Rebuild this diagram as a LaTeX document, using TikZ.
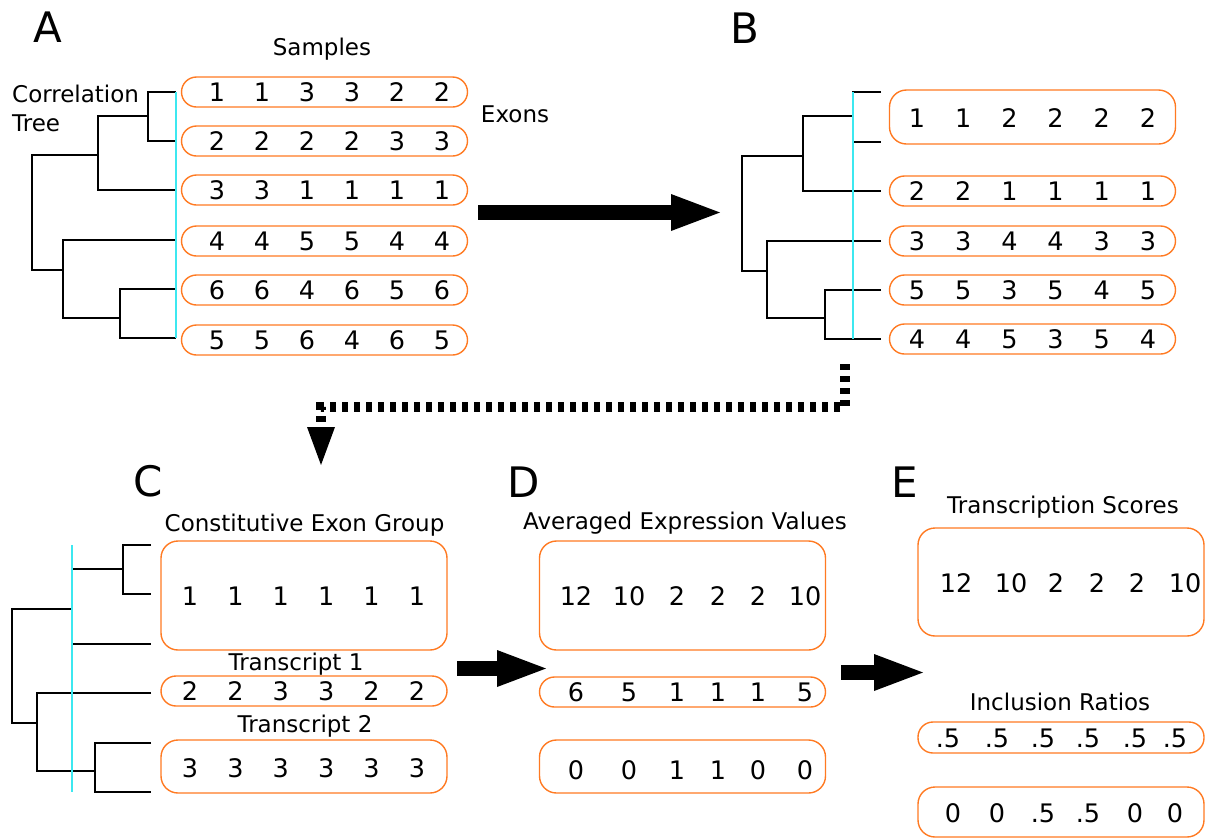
\documentclass[tikz,border=0pt]{standalone}
\usepackage{fontspec}
\setmainfont{DejaVu Sans}
\usetikzlibrary{arrows.meta}

\definecolor{boxorange}{RGB}{255,122,34}
\definecolor{cutcyan}{RGB}{60,232,240}

\begin{document}
\begin{tikzpicture}[
		x=1pt, y=-1pt,
		txt/.style={font=\fontsize{23}{27}\selectfont, inner sep=0pt, text height=17pt, text depth=0pt},
		num/.style={font=\fontsize{25.5}{30}\selectfont, inner sep=0pt, text height=18.6pt, text depth=0pt},
		panel/.style={font=\fontsize{42}{48}\selectfont, inner sep=0pt, text height=30.5pt, text depth=0pt},
		pill/.style={draw=boxorange, line width=1.4pt, rounded corners=15pt, minimum width=286pt, minimum height=30pt, inner sep=0pt},
		grp/.style={pill, rounded corners=17pt},
		tree/.style={line width=1.5pt},
		cutline/.style={draw=cutcyan, line width=1.8pt},
		bigarrow/.style={line width=15pt, -{Triangle[length=49pt, width=37pt, line width=0pt]}},
		dotarrow/.style={line width=10pt, dash pattern=on 6pt off 6pt, -{Triangle[length=38pt, width=28pt, line width=0pt]}}
	]
		\useasboundingbox (0,0) rectangle (1208,839);

		% A: exon rows with their correlation tree
		\node[panel] (pa) at (47.5,27.5) {A};
		\node[txt] (samples) at (322,47) {Samples};
		\node[txt, anchor=west] (corr) at (12,94) {Correlation};
		\node[txt, anchor=west] (corrtree) at (12,123) {Tree};
		\node[txt] (exons) at (515,114) {Exons};
		\foreach \y/\vals [count=\r] in {92/{1,1,3,3,2,2}, 141/{2,2,2,2,3,3}, 190/{3,3,1,1,1,1},
				241/{4,4,5,5,4,4}, 290/{6,6,4,6,5,6}, 340/{5,5,6,4,6,5}} {
			\node[pill] (a\r) at (324.5,\y) {};
			\foreach \v [count=\i] in \vals
				\node[num] (a\r-\i) at (172+45*\i,\y) {\v};
		}
		\draw[tree] (176,92) -| (148,141) -- (176,141);
		\draw[tree] (148,116) -| (98,190) -- (176,190);
		\draw[tree] (98,155) -| (32,270) -- (63,270);
		\draw[tree] (176,240) -| (63,318) -- (120,318);
		\draw[tree] (176,289) -| (120,338) -- (176,338);
		\draw[cutline] (176,92) -- (176,338);

		% A -> B
		\coordinate (ab-s) at (478,212.5);
		\coordinate (ab-e) at (720,212.5);
		\draw[bigarrow] (ab-s) -- (ab-e);

		% B: rows after merging the first two
		\node[panel] (pb) at (745,28) {B};
		\node[grp, minimum height=54pt] (b1) at (1032.5,117) {};
		\foreach \v [count=\i] in {1,1,2,2,2,2}
			\node[num] (b1-\i) at (870.8+46.2*\i,118) {\v};
		\foreach \y/\vals [count=\r from 2] in {191/{2,2,1,1,1,1}, 241/{3,3,4,4,3,3},
				290/{5,5,3,5,4,5}, 339/{4,4,5,3,5,4}} {
			\node[pill] (b\r) at (1032.5,\y) {};
			\foreach \v [count=\i] in \vals
				\node[num] (b\r-\i) at (870.8+46.2*\i,\y) {\v};
		}
		\draw[tree] (881,92) -| (853,142) -- (881,142);
		\draw[tree] (853,116) -| (803,191) -- (881,191);
		\draw[tree] (803,156) -| (742,271) -- (767,271);
		\draw[tree] (881,241) -| (767,318) -- (825,318);
		\draw[tree] (881,290) -| (825,339) -- (881,339);
		\draw[cutline] (853,92) -- (853,339);

		% B -> C
		\coordinate (bc-s) at (845,364);
		\coordinate (bc-turn) at (845,407);
		\coordinate (bc-e) at (321,465);
		\draw[dotarrow] (bc-s) -- (bc-turn) -| (bc-e);

		% C: exon groups
		\node[panel] (pc) at (148,481) {C};
		\node[txt] (congroup) at (304.5,523) {Constitutive Exon Group};
		\node[grp, minimum height=109pt] (c1) at (304,595.5) {};
		\foreach \v [count=\i] in {1,1,1,1,1,1}
			\node[num] (c1-\i) at (144.6+45.4*\i,596) {\v};
		\node[txt] (trans1) at (296,662) {Transcript 1};
		\node[pill] (c2) at (304,691) {};
		\foreach \v [count=\i] in {2,2,3,3,2,2}
			\node[num] (c2-\i) at (144.6+45.4*\i,691) {\v};
		\node[txt] (trans2) at (305,724) {Transcript 2};
		\node[grp, minimum height=53pt] (c3) at (304,766.5) {};
		\foreach \v [count=\i] in {3,3,3,3,3,3}
			\node[num] (c3-\i) at (144.6+45.4*\i,768) {\v};
		\draw[tree] (151,545) -| (123,594) -- (151,594);
		\draw[tree] (123,569) -| (72,644) -- (151,644);
		\draw[tree] (72,609) -| (12,723) -- (37,723);
		\draw[tree] (151,693) -| (37,771) -- (95,771);
		\draw[tree] (151,743) -| (95,792) -- (151,792);
		\draw[cutline] (72,545) -- (72,792);

		% C -> D
		\coordinate (cd-s) at (457,668.5);
		\coordinate (cd-e) at (546,668.5);
		\draw[bigarrow] (cd-s) -- (cd-e);

		% D: averaged values
		\node[panel] (pd) at (523.5,482) {D};
		\node[txt] (averaged) at (685,521) {Averaged Expression Values};
		\node[grp, minimum height=109pt] (d1) at (682.5,595.5) {};
		\node[pill] (d2) at (682.5,692) {};
		\node[grp, minimum height=53pt] (d3) at (682.5,766.5) {};
		\foreach \xx/\v [count=\i] in {576/12, 629/10, 677/2, 718/2, 758/2, 805/10}
			\node[num] (d1-\i) at (\xx,596) {\v};
		\foreach \xx/\v [count=\i] in {576/6, 629/5, 677/1, 718/1, 758/1, 805/5}
			\node[num] (d2-\i) at (\xx,692) {\v};
		\foreach \xx/\v [count=\i] in {576/0, 629/0, 677/1, 718/1, 758/0, 805/0}
			\node[num] (d3-\i) at (\xx,770) {\v};

		% D -> E
		\coordinate (de-s) at (841,672.5);
		\coordinate (de-e) at (923,672.5);
		\draw[bigarrow] (de-s) -- (de-e);

		% E: scores and ratios
		\node[panel] (pe) at (905,482) {E};
		\node[txt] (scores) at (1063,505) {Transcription Scores};
		\node[grp, minimum height=108pt] (e1) at (1061,582) {};
		\foreach \xx/\v [count=\i] in {956/12, 1011/10, 1056/2, 1097/2, 1137/2, 1185/10}
			\node[num] (e1-\i) at (\xx,583) {\v};
		\node[txt] (ratios) at (1060,702) {Inclusion Ratios};
		\node[pill, minimum height=31pt] (e2) at (1061,737.5) {};
		\foreach \xx/\v [count=\i] in {948/.5, 997/.5, 1043/.5, 1088/.5, 1135/.5, 1175/.5}
			\node[num] (e2-\i) at (\xx,738) {\v};
		\node[grp, minimum height=50pt] (e3) at (1061,812) {};
		\foreach \xx/\v [count=\i] in {953/0, 997/0, 1043/.5, 1088/.5, 1135/0, 1175/0}
			\node[num] (e3-\i) at (\xx,813) {\v};
	\end{tikzpicture}
\end{document}
